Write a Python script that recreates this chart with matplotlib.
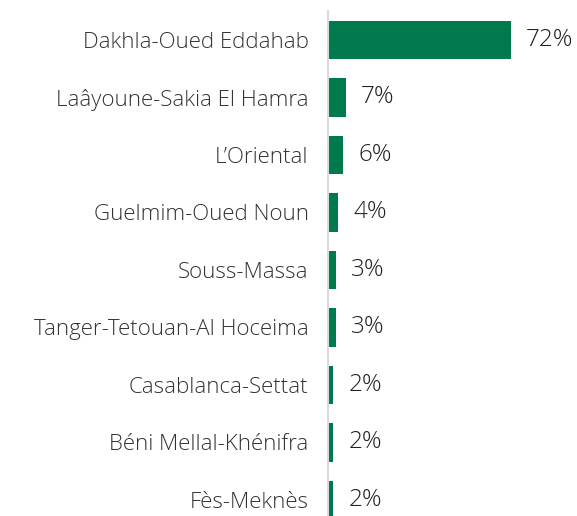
import matplotlib.pyplot as plt

regions = ['Dakhla-Oued Eddahab', 'Laâyoune-Sakia El Hamra', 'L’Oriental',
           'Guelmim-Oued Noun', 'Souss-Massa', 'Tanger-Tetouan-Al Hoceima',
           'Casablanca-Settat', 'Béni Mellal-Khénifra', 'Fès-Meknès']
shares = [72, 7, 6, 4, 3, 3, 2, 2, 2]

plt.rcParams['font.family'] = ['Open Sans', 'DejaVu Sans']

fig = plt.figure(figsize=(5.77, 5.16), dpi=100)
ax = fig.add_axes([328 / 577, 0, 249 / 577, 505 / 516])

pos = range(len(regions))
ax.barh(pos, shares, height=0.67, color='#007a4d')
for i, v in enumerate(shares):
    ax.annotate(f'{v}%', (v, i), xytext=(11, 0), textcoords='offset points',
                va='center', ha='left', fontsize=17.5, fontweight='light',
                color='#222222')

ax.set_yticks(list(pos))
ax.set_yticklabels(regions, fontsize=16, fontweight='light', color='#333333')
ax.tick_params(axis='y', length=0, pad=14)
ax.set_xticks([])
ax.set_xlim(0, 98)
ax.set_ylim(8.28, -0.504)
for s in ['top', 'right', 'bottom']:
    ax.spines[s].set_visible(False)
ax.spines['left'].set_color('#d9d9d9')
ax.spines['left'].set_linewidth(1.5)

fig.savefig('out.png', dpi=100)
